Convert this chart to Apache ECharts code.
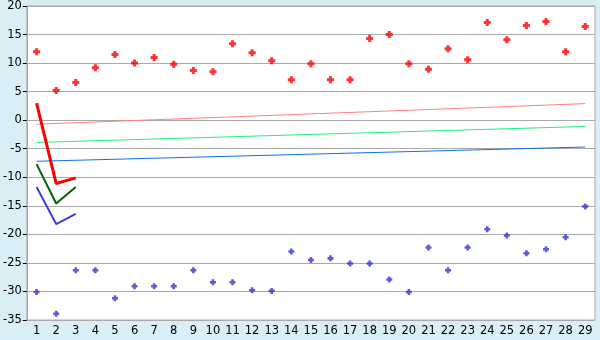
<!DOCTYPE html>
<html>
<head>
<meta charset="utf-8">
<script src="https://cdn.jsdelivr.net/npm/echarts@6/dist/echarts.min.js"></script>
<style>
  html, body { margin: 0; padding: 0; background: #d9eef5; }
  #chart { width: 600px; height: 340px; }
</style>
</head>
<body>
<div id="chart"></div>
<script>
// categories 1..29
const categories = ['1','2','3','4','5','6','7','8','9','10','11','12','13','14','15',
  '16','17','18','19','20','21','22','23','24','25','26','27','28','29']

// upper (red) and lower (blue) point series
const highPoints = [12.0, 5.2, 6.6, 9.2, 11.5, 10.0, 11.0, 9.8, 8.7, 8.5, 13.4, 11.8, 10.4, 7.1, 9.9,
  7.1, 7.1, 14.3, 15.0, 9.9, 8.9, 12.5, 10.6, 17.1, 14.1, 16.6, 17.3, 12.0, 16.4]
const lowPoints = [-30.1, -33.9, -26.3, -26.3, -31.2, -29.1, -29.1, -29.1, -26.3, -28.4, -28.4, -29.8, -29.9, -23.0, -24.5,
  -24.2, -25.1, -25.1, -27.9, -30.1, -22.3, -26.3, -22.3, -19.1, -20.2, -23.3, -22.6, -20.5, -15.1]

// trend lines: value at first and last category
const pinkTrend = [-0.7, 2.9]
const greenTrend = [-3.9, -1.1]
const blueTrend = [-7.2, -4.7]

// short lines over categories 1..3
const redShort = [3.0, -11.1, -10.1]
const greenShort = [-7.7, -14.6, -11.7]
const blueShort = [-11.7, -18.2, -16.4]

const chart = echarts.init(document.getElementById('chart'))
const font = 'DejaVu Sans, sans-serif'
const last = categories.length - 1
// chunky stepped diamond, like the pixel crosses in the original
const marker = 'path://M2,0H5V2H7V5H5V7H2V5H0V2H2Z'

function trend(name, vals, color) {
  return {
    name, type: 'line', data: [[0, vals[0]], [last, vals[1]]],
    symbol: 'none', lineStyle: { width: 1, color }, z: 2, animation: false,
  }
}
function shortLine(name, vals, color, width) {
  return {
    name, type: 'line', data: vals, symbol: 'none',
    lineStyle: { width, color }, z: 3, animation: false,
  }
}

chart.setOption({
  backgroundColor: '#d9eef5',
  animation: false,
  grid: {
    left: 26, right: 5, top: 5, bottom: 20,
    show: true, backgroundColor: '#ffffff', borderColor: '#aaaaaa', borderWidth: 1,
  },
  xAxis: {
    type: 'category',
    data: categories,
    boundaryGap: true,
    axisLine: { lineStyle: { color: '#aaaaaa' } },
    axisTick: { alignWithLabel: true, length: 5, lineStyle: { color: '#000' } },
    axisLabel: { color: '#000', fontFamily: font, fontSize: 11.5, margin: 5, interval: 0 },
    splitLine: { show: false },
  },
  yAxis: {
    type: 'value',
    min: -35, max: 20, interval: 5,
    axisLine: { show: true, lineStyle: { color: '#aaaaaa' } },
    axisTick: { show: true, length: 4, lineStyle: { color: '#000' } },
    axisLabel: { color: '#000', fontFamily: font, fontSize: 11.5, margin: 5 },
    splitLine: { lineStyle: { color: '#aaaaaa', width: 1 } },
  },
  series: [
    trend('pink', pinkTrend, '#ff8080'),
    trend('green', greenTrend, '#20f080'),
    trend('blue', blueTrend, '#1070f0'),
    shortLine('red', redShort, '#ff0000', 3),
    shortLine('dkgreen', greenShort, '#006400', 2),
    shortLine('indigo', blueShort, '#4040d0', 2),
    {
      name: 'high', type: 'scatter', data: highPoints,
      symbol: marker, symbolSize: 7, itemStyle: { color: '#ff0000' }, z: 4,
    },
    {
      name: 'low', type: 'scatter', data: lowPoints,
      symbol: marker, symbolSize: 6, itemStyle: { color: '#3333cc' }, z: 4,
    },
  ],
})
</script>
</body>
</html>
